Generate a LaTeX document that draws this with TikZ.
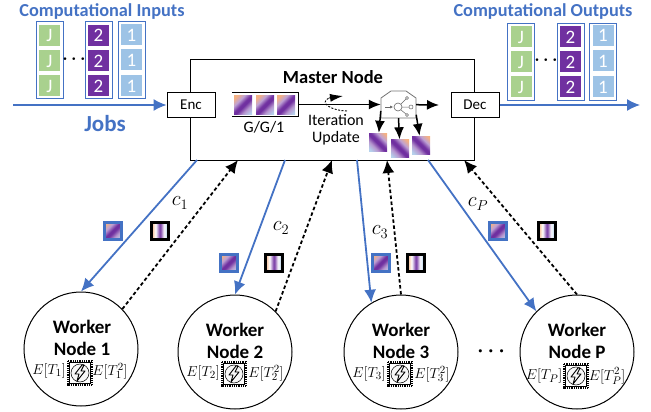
\documentclass[tikz,border=0pt]{standalone}
\usepackage{fontspec}
\setmainfont{Carlito}
\usetikzlibrary{arrows.meta}

\definecolor{jobblue}{RGB}{68,114,196}
\definecolor{jobgreen}{RGB}{169,209,142}
\definecolor{jobpurple}{RGB}{112,48,160}
\definecolor{joblight}{RGB}{157,195,230}
\definecolor{tileorange}{RGB}{244,177,131}

\pgfdeclarehorizontalshading{tilefade}{100bp}{color(0bp)=(tileorange); color(20bp)=(tileorange); color(34bp)=(white!55!jobpurple); color(47bp)=(jobpurple); color(54bp)=(jobpurple); color(67bp)=(white!50!jobpurple); color(82bp)=(joblight!75!white); color(100bp)=(joblight!75!white)}
\pgfdeclarehorizontalshading{stripefade}{100bp}{color(0bp)=(tileorange); color(25bp)=(tileorange); color(37bp)=(white); color(50bp)=(jobpurple); color(62bp)=(white); color(75bp)=(joblight); color(100bp)=(joblight)}

\tikzset{
  box/.style={draw, line width=1, fill=white, minimum width=48, minimum height=24, inner sep=0, font=\fontsize{15}{15}\selectfont},
  frame/.style={draw=jobblue, line width=1, minimum width=27, minimum height=77, inner sep=0},
  cell/.style={minimum width=21, minimum height=21, inner sep=0, text=white, font=\fontsize{19}{19}\selectfont},
  cellj/.style={cell, fill=jobgreen},
  celltwo/.style={cell, fill=jobpurple},
  cellone/.style={cell, fill=joblight},
  tile/.style={minimum size=18, inner sep=0, shading=tilefade, shading angle=-45},
  tileflip/.style={minimum size=18, inner sep=0, shading=tilefade, shading angle=-135},
  sent/.style={minimum size=17, inner sep=0, outer sep=0, draw=jobblue, line width=3, shading=tilefade, shading angle=-45},
  back/.style={minimum size=17, inner sep=0, outer sep=0, draw=black, line width=3, shading=stripefade},
  worker/.style={draw, circle, minimum size=114, inner sep=0, line width=1},
  title/.style={text=jobblue, font=\fontsize{18.3}{18.3}\selectfont\bfseries},
  wtext/.style={font=\fontsize{19}{19}\selectfont\bfseries},
  mtext/.style={inner sep=0, font=\fontsize{16}{16}\selectfont},
  etext/.style={inner sep=0, font=\fontsize{15.5}{15.5}\selectfont},
  ctext/.style={inner sep=0, font=\fontsize{20}{20}\selectfont},
  blueline/.style={draw=jobblue, line width=1.8, -{Latex[length=13,width=12]}},
  dashline/.style={draw=black, line width=1.8, dash pattern=on 3.5 off 2.5, -{Latex[length=13,width=12]}},
  blackline/.style={draw=black, line width=1.5, -{Latex[length=12,width=10]}},
  chip/.pic={
    \draw[line width=1.8, dash pattern=on .9 off .9] (-12,-12) rectangle (12,12);
    \draw[line width=1, fill=white] (-10.5,-10.5) rectangle (10.5,10.5);
    \draw[line width=.5, fill=black!3] (0,0) circle (9);
    \draw[line width=.9, line join=round] (2,-8) -- (-5,1) -- (-1,1) -- (-3,8) -- (5,-2) -- (1,-2) -- (4,-8) -- cycle;
  }
}

\begin{document}
\begin{tikzpicture}[x=1pt,y=-1pt]
\useasboundingbox (0,0) rectangle (651,412);

% inputs
\node[title] (intitle) at (102,12) {Computational Inputs};
\node[frame] (inj) at (49.5,60.5) {};
\node[frame] (intwo) at (98.5,60.5) {};
\node[frame] (inone) at (131.5,60.5) {};
\node[cellj] (inj1) at (49.5,35.5) {J};
\node[cellj] (inj2) at (49.5,61) {J};
\node[cellj] (inj3) at (49.5,86) {J};
\node[celltwo] (intwo1) at (98.5,35.5) {2};
\node[celltwo] (intwo2) at (98.5,61) {2};
\node[celltwo] (intwo3) at (98.5,86) {2};
\node[cellone] (inone1) at (131.5,35) {1};
\node[cellone] (inone2) at (131.5,60) {1};
\node[cellone] (inone3) at (131.5,86) {1};
\node[font=\fontsize{16}{16}\selectfont\boldmath] (indots) at (74,59) {$\cdots$};
\coordinate (jobstart) at (13,105);
\node[title, font=\fontsize{23}{23}\selectfont\bfseries] (jobs) at (105,124) {Jobs};

% outputs
\node[title] (outtitle) at (543,12) {Computational Outputs};
\node[frame] (outj) at (521,62) {};
\node[frame] (outtwo) at (570.5,62) {};
\node[frame] (outone) at (603,62) {};
\node[cellj] (outj1) at (521,37) {J};
\node[cellj] (outj2) at (521,62) {J};
\node[cellj] (outj3) at (521,87) {J};
\node[celltwo] (outtwo1) at (570.5,37) {2};
\node[celltwo] (outtwo2) at (570.5,62) {2};
\node[celltwo] (outtwo3) at (570.5,87) {2};
\node[cellone] (outone1) at (603,35.5) {1};
\node[cellone] (outone2) at (603,61) {1};
\node[cellone] (outone3) at (603,87) {1};
\node[font=\fontsize{16}{16}\selectfont\boldmath] (outdots) at (546,60) {$\cdots$};
\coordinate (jobend) at (640,105);

% master
\node[draw, line width=1, minimum width=284, minimum height=100, inner sep=0] (master) at (332,110) {};
\node[box] (enc) at (191,105) {Enc};
\node[box] (dec) at (475,105) {Dec};
\node[font=\fontsize{18.5}{18.5}\selectfont\bfseries] (mastertext) at (333,77) {Master Node};
\node[minimum width=66, minimum height=23, inner sep=0] (queue) at (265,104.5) {};
\node[tile] (q1) at (243,105) {};
\node[tile] (q2) at (265,105) {};
\node[tile] (q3) at (286,105) {};
\node[mtext] (ggone) at (264,127) {G/G/1};
\node[mtext] (iter) at (336,120) {Iteration};
\node[mtext] (update) at (336,138) {Update};
\node[minimum width=35, minimum height=27, inner sep=0] (server) at (398.5,104.5) {};
\draw[black!55, line width=.8] (381,118) -- (381,98) -- (391,91) -- (406,91) -- (416,98) -- (416,118) -- cycle;
\draw[black!60, line width=.6] (398,107) circle (4);
\draw[black!60, line width=.5, -{Latex[length=3,width=3]}] (385,107) -- (393,107);
\draw[black!60, line width=.5] (401,104) -- (406,99) (402,107) -- (409,107) (401,110) -- (406,114);
\draw[black!60, line width=.5] (407,98) circle (1.5) (411,107) circle (2) (407,115) circle (1.5);
\coordinate (serverout) at (439,105);
\node[tileflip] (out1) at (378,142) {};
\node[tileflip] (out2) at (400,148.5) {};
\node[tileflip] (out3) at (421,145) {};
\coordinate (loopstart) at (347,111);
\coordinate (loopend) at (343,96);

% workers
\node[worker] (w1) at (81,349) {};
\node[worker] (w2) at (235,352) {};
\node[worker] (w3) at (401,352) {};
\node[worker] (w4) at (577,352) {};
\node[wtext] (w1a) at (82,327) {Worker};
\node[wtext] (w1b) at (82,349) {Node 1};
\node[wtext] (w2a) at (235,330) {Worker};
\node[wtext] (w2b) at (235,352) {Node 2};
\node[wtext] (w3a) at (401,330) {Worker};
\node[wtext] (w3b) at (401,352) {Node 3};
\node[wtext] (w4a) at (577,330) {Worker};
\node[wtext] (w4b) at (577,352) {Node P};
\pic at (80,373) {chip};
\pic at (234,374) {chip};
\pic at (400,374) {chip};
\pic at (576,376) {chip};
\node[etext] (e1a) at (49,371) {$E[T_1]$};
\node[etext] (e1b) at (110,371) {$E[T_1^2]$};
\node[etext] (e2a) at (203,373) {$E[T_2]$};
\node[etext] (e2b) at (266,373) {$E[T_2^2]$};
\node[etext] (e3a) at (369,374) {$E[T_3]$};
\node[etext] (e3b) at (432,374) {$E[T_3^2]$};
\node[etext] (e4a) at (544,376) {$E[T_P]$};
\node[etext] (e4b) at (607,376) {$E[T_P^2]$};
\node[font=\fontsize{21}{21}\selectfont\boldmath] (wdots) at (491,352) {$\cdots$};

% rates and tiles on the links
\node[ctext] (c1) at (180,203) {$c_1$};
\node[ctext] (c2) at (281,228) {$c_2$};
\node[ctext] (c3) at (380,232) {$c_3$};
\node[ctext] (c4) at (478,204) {$c_P$};
\node[sent] (s1) at (113,231) {};
\node[back] (b1) at (160,231) {};
\node[sent] (s2) at (229,263) {};
\node[back] (b2) at (274,263) {};
\node[sent] (s3) at (381,263) {};
\node[back] (b3) at (416,263) {};
\node[sent] (s4) at (498,231) {};
\node[back] (b4) at (547,231) {};

\coordinate (m1) at (197,160);
\coordinate (m2) at (285,160);
\coordinate (m3) at (357,160);
\coordinate (m4) at (428,160);
\coordinate (r1) at (238,160);
\coordinate (r2) at (332,160);
\coordinate (r3) at (387,160);
\coordinate (r4) at (464,160);

\draw[line width=1] (queue.north west) -- (queue.north east) -- (queue.south east) -- (queue.south west);
\draw[blueline, line width=1.3] (jobstart) -- (enc);
\draw[blueline, line width=1.3] (dec) -- (jobend);
\draw[blackline] (queue.east) -- (server);
\draw[blackline] (server) -- (serverout);
\draw[blackline] (server.200) -- (out1);
\draw[blackline] (server.south) -- (out2);
\draw[blackline] (server.-30) -- (out3);
\draw[black, line width=.9, dash pattern=on 2 off 1.5] (loopstart) .. controls (333,111) and (318,103) .. (329,98);
\draw[black, line width=.9, -{Latex[length=13,width=8]}] (329,98) -- (loopend);
\draw[blueline] (m1) -- (w1.north);
\draw[blueline] (m2) -- (w2.north);
\draw[blueline] (m3) -- (w3.121);
\draw[blueline] (m4) -- (w4.135);
\draw[dashline] (w1.44) -- (r1);
\draw[dashline] (w2.45) -- (r2);
\draw[dashline] (w3.north) -- (r3);
\draw[dashline] (w4.north) -- (r4);
\end{tikzpicture}
\end{document}
